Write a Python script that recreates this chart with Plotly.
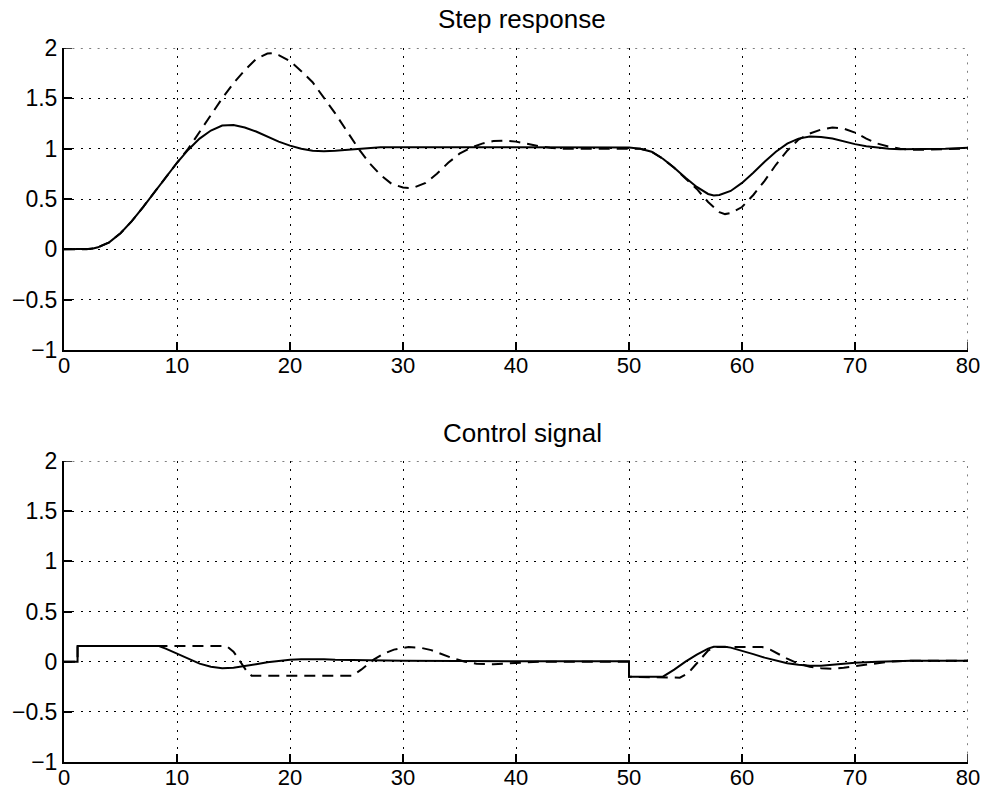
import plotly.graph_objects as go

# ---------------- data ----------------
# Step response (top panel)
step_solid_t = [0, 1, 2, 2.5, 3, 4, 5, 6, 7, 8, 9, 10, 11, 12, 13, 14, 15, 16, 17, 18, 19, 20,
                21, 22, 23, 24, 25, 26, 27, 28, 30, 35, 40, 45, 50, 51, 52, 53, 54, 55, 56, 57,
                57.5, 58, 59, 60, 61, 62, 63, 64, 65, 66, 67, 68, 69, 70, 71, 72, 73, 74, 76, 78, 80]
step_solid_y = [0, 0, 0.0, 0.005, 0.02, 0.07, 0.16, 0.28, 0.42, 0.57, 0.72, 0.86, 0.99, 1.1, 1.18,
                1.23, 1.235, 1.21, 1.17, 1.12, 1.07, 1.03, 1.0, 0.98, 0.975, 0.98, 0.99, 1.0, 1.01,
                1.015, 1.015, 1.015, 1.012, 1.012, 1.012, 1.0, 0.97, 0.9, 0.81, 0.71, 0.62, 0.55,
                0.535, 0.54, 0.58, 0.66, 0.76, 0.87, 0.97, 1.05, 1.1, 1.12, 1.115, 1.1, 1.07, 1.045,
                1.025, 1.01, 1.0, 0.995, 0.995, 1.0, 1.01]

step_dash_t = [0, 1, 2, 3, 4, 5, 6, 7, 8, 9, 10, 11, 12, 13, 14, 15, 16, 17, 18, 18.5, 19, 20,
               21, 22, 23, 24, 25, 26, 27, 28, 29, 30, 30.5, 31, 32, 33, 34, 35, 36, 37, 38, 39,
               40, 41, 42, 43, 44, 50, 51, 52, 53, 54, 55, 56, 57, 58, 58.5, 59, 60, 61, 62, 63,
               64, 65, 66, 67, 68, 69, 70, 71, 72, 73, 74, 75, 76, 78, 80]
step_dash_y = [0, 0, 0, 0.02, 0.07, 0.16, 0.28, 0.42, 0.57, 0.72, 0.86, 1.0, 1.17, 1.34, 1.5,
               1.65, 1.78, 1.89, 1.945, 1.95, 1.93, 1.87, 1.77, 1.66, 1.51, 1.35, 1.18, 1.01,
               0.86, 0.74, 0.65, 0.615, 0.61, 0.615, 0.66, 0.75, 0.86, 0.95, 1.01, 1.05, 1.075,
               1.08, 1.07, 1.045, 1.025, 1.01, 1.0, 1.0, 1.0, 0.97, 0.9, 0.81, 0.71, 0.6, 0.47,
               0.37, 0.35, 0.36, 0.42, 0.54, 0.68, 0.84, 0.98, 1.09, 1.15, 1.19, 1.21, 1.2, 1.16,
               1.1, 1.05, 1.02, 1.0, 0.99, 0.99, 0.995, 1.0]

# Control signal (bottom panel)
ctrl_solid_t = [0, 1.2, 1.2, 8.4, 9, 10, 11, 12, 13, 14, 15, 16, 17, 18, 19, 20, 21, 22, 23, 24,
                26, 28, 30, 40, 50, 50, 53, 54, 55, 56, 57, 57.5, 58.5, 59, 60, 61, 62, 63, 64, 65,
                66, 67, 68, 69, 70, 72, 75, 80]
ctrl_solid_y = [0, 0, 0.155, 0.155, 0.13, 0.08, 0.03, -0.02, -0.05, -0.065, -0.06, -0.045,
                -0.025, -0.005, 0.01, 0.02, 0.025, 0.027, 0.025, 0.02, 0.015, 0.01, 0.008, 0.005,
                0.005, -0.15, -0.15, -0.08, 0.0, 0.07, 0.13, 0.148, 0.148, 0.14, 0.11, 0.075, 0.04,
                0.01, -0.015, -0.03, -0.04, -0.04, -0.03, -0.02, -0.01, 0.0, 0.01, 0.01]

ctrl_dash_t = [0, 1.2, 1.2, 14.4, 15, 15.6, 16.2, 16.6, 25.5, 26.3, 27.4, 28.3, 29.2, 30.5,
               31.5, 32.5, 33.5, 34.5, 35.5, 36.5, 38, 40, 42, 50, 50, 54.5, 55, 55.5, 56, 56.5,
               57, 57.5, 61.8, 62.5, 63, 64, 65, 66, 67, 68, 69, 70, 71, 72, 73, 75, 80]
ctrl_dash_y = [0, 0, 0.155, 0.155, 0.1, 0.0, -0.1, -0.14, -0.14, -0.08, 0.02, 0.08, 0.12,
               0.145, 0.14, 0.115, 0.07, 0.03, 0.0, -0.02, -0.025, -0.01, 0.0, 0.0, -0.15,
               -0.16, -0.13, -0.08, -0.02, 0.05, 0.11, 0.145, 0.145, 0.12, 0.09, 0.03, -0.02,
               -0.05, -0.065, -0.07, -0.06, -0.045, -0.025, -0.01, 0.0, 0.01, 0.01]

x_ticks = [0, 10, 20, 30, 40, 50, 60, 70, 80]
y_ticks = [-1, -0.5, 0, 0.5, 1, 1.5, 2]
y_tick_labels = ["\u22121", "\u22120.5", "0", "0.5", "1", "1.5", "2"]
titles = ["Step response", "Control signal"]

# ---------------- figure ----------------
W, H = 991, 793
ML, MR, MT, MB = 64, 23, 48, 31
plot_h = H - MT - MB


def py(pix):
    return (H - MB - pix) / plot_h


top_dom = [py(350), 1.0]
bot_dom = [0.0, py(461)]

FONT = "Liberation Sans, Arial, Helvetica, sans-serif"
GRID_DASH = "2px,6.4px"
solid = dict(color="black", width=2)
dashed = dict(color="black", width=2, dash="11px,7px")

fig = go.Figure()
fig.add_trace(go.Scatter(x=step_dash_t, y=step_dash_y, mode="lines", line=dashed,
                         xaxis="x", yaxis="y", showlegend=False, hoverinfo="skip"))
fig.add_trace(go.Scatter(x=step_solid_t, y=step_solid_y, mode="lines", line=solid,
                         xaxis="x", yaxis="y", showlegend=False, hoverinfo="skip"))
fig.add_trace(go.Scatter(x=ctrl_dash_t, y=ctrl_dash_y, mode="lines", line=dashed,
                         xaxis="x2", yaxis="y2", showlegend=False, hoverinfo="skip"))
fig.add_trace(go.Scatter(x=ctrl_solid_t, y=ctrl_solid_y, mode="lines", line=solid,
                         xaxis="x2", yaxis="y2", showlegend=False, hoverinfo="skip"))

common = dict(showline=True, linecolor="black", linewidth=2, mirror=False,
              ticks="inside", ticklen=8, tickwidth=1.5, tickcolor="black",
              showgrid=True, gridcolor="black", gridwidth=1, griddash=GRID_DASH,
              zeroline=False, automargin=False,
              tickfont=dict(family=FONT, size=23, color="black"))

xa = dict(common, range=[0, 80], tickmode="array", tickvals=x_ticks,
          ticktext=[str(v) for v in x_ticks], ticklabelstandoff=-5)
xa["tickfont"] = dict(family=FONT, size=22, color="black")
ya = dict(common, range=[-1, 2], tickmode="array", tickvals=y_ticks, ticktext=y_tick_labels)

# edge grid lines and end ticks (plotly drops those at the range ends)
shapes = []
xmin, xmax = x_ticks[0], x_ticks[-1]
ymin, ymax = y_ticks[0], y_ticks[-1]
for xr, yr in (("x", "y"), ("x2", "y2")):
    shapes.append(dict(type="line", xref=xr, yref=yr, x0=xmin, x1=xmax, y0=ymax, y1=ymax,
                       line=dict(color="black", width=1, dash=GRID_DASH)))
    shapes.append(dict(type="line", xref=xr, yref=yr, x0=xmax, x1=xmax, y0=ymin, y1=ymax,
                       line=dict(color="black", width=1, dash=GRID_DASH)))
    shapes.append(dict(type="line", xref=xr, yref=yr, xsizemode="pixel", xanchor=xmin,
                       x0=0, x1=8, y0=ymax, y1=ymax, line=dict(color="black", width=1.5)))
    shapes.append(dict(type="line", xref=xr, yref=yr, ysizemode="pixel", yanchor=ymin,
                       y0=0, y1=8, x0=xmax, x1=xmax, line=dict(color="black", width=1.5)))

fig.update_layout(
    width=W, height=H,
    margin=dict(l=ML, r=MR, t=MT, b=MB, pad=0),
    paper_bgcolor="white", plot_bgcolor="white",
    xaxis=dict(xa, domain=[0, 1], anchor="y"),
    yaxis=dict(ya, domain=top_dom, anchor="x"),
    xaxis2=dict(xa, domain=[0, 1], anchor="y2"),
    yaxis2=dict(ya, domain=bot_dom, anchor="x2"),
    shapes=shapes,
    annotations=[
        dict(text=titles[0], xref="paper", yref="paper", x=0.507, y=py(19),
             xanchor="center", yanchor="middle", showarrow=False,
             font=dict(family=FONT, size=26, color="black")),
        dict(text=titles[1], xref="paper", yref="paper", x=0.507, y=py(433),
             xanchor="center", yanchor="middle", showarrow=False,
             font=dict(family=FONT, size=26, color="black")),
    ],
)

fig.write_html("out.html")
